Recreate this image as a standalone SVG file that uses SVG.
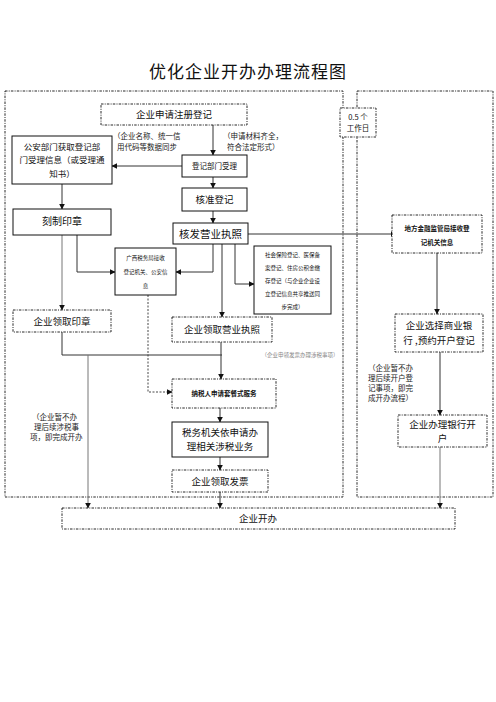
<svg xmlns="http://www.w3.org/2000/svg" width="496" height="702" viewBox="0 0 496 702">
<defs>
<marker id="ah" viewBox="0 0 10 10" refX="9" refY="5" markerWidth="6" markerHeight="6" orient="auto" markerUnits="userSpaceOnUse">
<path d="M0,0 L10,5 L0,10 z" fill="#111"/>
</marker>
</defs>
<style>
text{font-family:"Noto Sans CJK SC","Noto Sans",sans-serif;fill:#111;text-anchor:middle}
.sol{fill:#fff;stroke:#111;stroke-width:1}
.dsh{fill:#fff;stroke:#111;stroke-width:0.9;stroke-dasharray:2.5 1.2 1 1.2}
.reg{fill:none;stroke:#111;stroke-width:0.9;stroke-dasharray:2.5 1.2 1 1.2}
.ln{fill:none;stroke:#333;stroke-width:1}
.gl{fill:none;stroke:#777;stroke-width:1}
.dl{fill:none;stroke:#333;stroke-width:0.9;stroke-dasharray:2 1.5}
.note{font-size:7.5px;fill:#222;text-anchor:start}
</style>
<rect width="496" height="702" fill="#fff"/>
<text x="248" y="78" font-size="17" style="letter-spacing:1px">优化企业开办办理流程图</text>
<g id="regions">
<rect class="reg" x="5" y="91" width="338" height="406"/>
<rect class="reg" x="357" y="91" width="136" height="406"/>
</g>
<g id="n_time"><rect class="dsh" x="340" y="108" width="36" height="29"/><text x="358" y="120" font-size="7.5">0.5 个</text><text x="358" y="131" font-size="7.5">工作日</text></g>
<g id="connectors">
<path class="ln" d="M213,125 V155" marker-end="url(#ah)"/>
<path class="ln" d="M182,166 H112" marker-end="url(#ah)"/>
<path class="ln" d="M213,177 V188" marker-end="url(#ah)"/>
<path class="ln" d="M213,211 V223" marker-end="url(#ah)"/>
<path class="ln" d="M62,184 V209" marker-end="url(#ah)"/>
<path class="ln" d="M247,234 H396" marker-end="url(#ah)"/>
<path class="ln" d="M77,235 V272 H115" marker-end="url(#ah)"/>
<path class="ln" d="M213,244 V272 H176" marker-end="url(#ah)"/>
<path class="ln" d="M222,244 V317" marker-end="url(#ah)"/>
<path class="ln" d="M235,244 V284 H254" marker-end="url(#ah)"/>
<path class="gl" d="M62,235 V310" marker-end="url(#ah)"/>
<path class="ln" d="M437,253 V314" marker-end="url(#ah)"/>
<path class="ln" d="M440,352 V415" marker-end="url(#ah)"/>
<path class="gl" d="M440,447 V508" marker-end="url(#ah)"/>
<path class="ln" d="M62,332 V355 H222"/>
<path class="ln" d="M221,342 V379" marker-end="url(#ah)"/>
<path class="gl" d="M88,355 V508" marker-end="url(#ah)"/>
<path class="dl" d="M148,295 V392 H172" marker-end="url(#ah)"/>
<path class="ln" d="M220,408 V422" marker-end="url(#ah)"/>
<path class="ln" d="M220,457 V470" marker-end="url(#ah)"/>
<path class="ln" d="M220,492 V508" marker-end="url(#ah)"/>
</g>
<g id="n_apply"><rect class="dsh" x="101" y="104" width="146" height="21"/><text x="174" y="118" font-size="9.5">企业申请注册登记</text></g>
<g id="n_police"><rect class="sol" x="12" y="136" width="100" height="48"/>
<text x="62" y="150" font-size="8.5">公安部门获取登记部</text>
<text x="62" y="163" font-size="8.5">门受理信息（或受理通</text>
<text x="62" y="177" font-size="8.5">知书）</text></g>
<text class="note" x="113" y="139">（企业名称、统一信</text>
<text class="note" x="117" y="150">用代码等数据同步</text>
<text class="note" x="223" y="139">（申请材料齐全，</text>
<text class="note" x="227" y="150">符合法定形式）</text>
<g id="n_accept"><rect class="sol" x="182" y="155" width="65" height="22"/><text x="214.500" y="169" font-size="7.5">登记部门受理</text></g>
<g id="n_approve"><rect class="sol" x="182" y="188" width="65" height="23"/><text x="214.500" y="203" font-size="9.5">核准登记</text></g>
<g id="n_license"><rect class="sol" x="173" y="223" width="75" height="21"/><text x="210.500" y="238" font-size="10.5">核发营业执照</text></g>
<g id="n_seal"><rect class="sol" x="13" y="209" width="98" height="26"/><text x="62" y="225" font-size="10">刻制印章</text></g>
<g id="n_tax_recv"><rect class="sol" x="115" y="248" width="61" height="47"/>
<text x="145.500" y="260" font-size="5.5">广西税务局接收</text>
<text x="145.500" y="274" font-size="5.5">登记机关、公安信</text>
<text x="145.500" y="288" font-size="5.5">息</text></g>
<g id="n_social"><rect class="sol" x="254" y="246" width="77" height="68"/>
<text x="292.500" y="257" font-size="5.5">社会保险登记、医保备</text>
<text x="292.500" y="270" font-size="5.5">案登记、住房公积金缴</text>
<text x="292.500" y="283" font-size="5.5">存登记（与企业企业设</text>
<text x="292.500" y="296" font-size="5.5">立登记信息共享推送同</text>
<text x="292.500" y="309" font-size="5.5">步完成）</text></g>
<g id="n_finance"><rect class="dsh" x="392" y="215" width="90" height="38"/>
<text x="437" y="231" font-size="6.5" font-weight="bold">地方金融监管局接收登</text>
<text x="437" y="245" font-size="6.5" font-weight="bold">记机关信息</text></g>
<g id="n_bank_choose"><rect class="dsh" x="395" y="314" width="88" height="38"/>
<text x="439" y="329" font-size="9.5">企业选择商业银</text>
<text x="439" y="344" font-size="9.5">行 ,预约开户登记</text></g>
<text class="note" x="368" y="371">（企业暂不办</text>
<text class="note" x="368" y="381">理后续开户登</text>
<text class="note" x="368" y="391">记事项，即完</text>
<text class="note" x="368" y="401">成开办流程）</text>
<g id="n_bank_open"><rect class="dsh" x="398" y="415" width="89" height="32"/>
<text x="442.500" y="428" font-size="9.5">企业办理银行开</text>
<text x="442.500" y="442" font-size="9.5">户</text></g>
<g id="n_seal_get"><rect class="dsh" x="13" y="310" width="98" height="22"/><text x="62" y="325" font-size="9.5">企业领取印章</text></g>
<g id="n_license_get"><rect class="dsh" x="172" y="317" width="100" height="25"/><text x="222" y="333" font-size="9.5">企业领取营业执照</text></g>
<text x="300" y="357" font-size="5.5" fill="#777" style="fill:#888">（企业申领发票办理涉税事项）</text>
<text class="note" x="32" y="420">（企业暂不办</text>
<text class="note" x="34" y="430">理后续涉税事</text>
<text class="note" x="30" y="440">项，即完成开办</text>
<g id="n_taxpayer"><rect class="dsh" x="172" y="379" width="104" height="29"/><text x="224" y="396" font-size="6.5" font-weight="bold">纳税人申请套餐式服务</text></g>
<g id="n_tax_do"><rect class="sol" x="172" y="422" width="96" height="35"/>
<text x="220" y="436" font-size="9.5">税务机关依申请办</text>
<text x="220" y="450" font-size="9.5">理相关涉税业务</text></g>
<g id="n_invoice"><rect class="dsh" x="172" y="470" width="96" height="22"/><text x="220" y="485" font-size="9.5">企业领取发票</text></g>
<g id="n_done"><rect class="dsh" x="62" y="508" width="393" height="21"/><text x="258" y="522" font-size="9.5">企业开办</text></g>
</svg>
